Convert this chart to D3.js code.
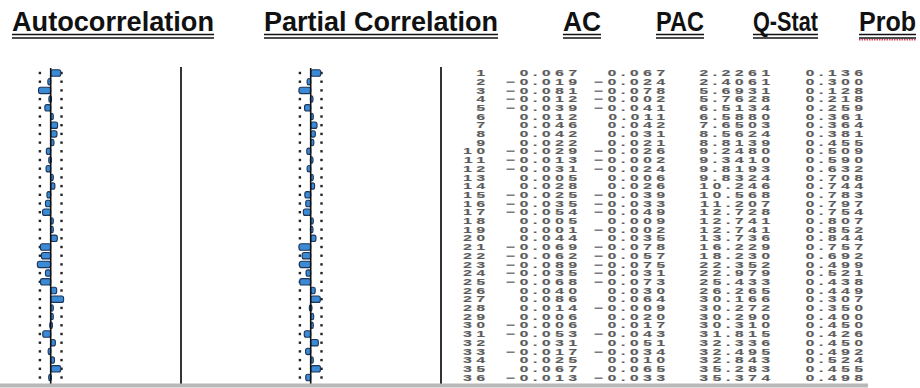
<!DOCTYPE html>
<html>
<head>
<meta charset="utf-8">
<script src="https://cdn.jsdelivr.net/npm/d3@7/dist/d3.min.js"></script>
<style>
  body { margin: 0; background: #fff; }
  svg { display: block; }
</style>
</head>
<body>
<svg id="chart"></svg>
<script>
// correlogram values
const lags = [1, 2, 3, 4, 5, 6, 7, 8, 9, 10, 11, 12, 13, 14, 15, 16, 17, 18,
  19, 20, 21, 22, 23, 24, 25, 26, 27, 28, 29, 30, 31, 32, 33, 34, 35, 36];
const ac = [0.067, -0.019, -0.081, -0.012, -0.039, 0.012, 0.046, 0.042, 0.022, -0.029,
  -0.013, -0.031, 0.005, 0.028, -0.025, -0.035, -0.054, 0.005, 0.001, 0.044,
  -0.069, -0.062, -0.089, -0.035, -0.068, 0.040, 0.086, 0.014, 0.006, -0.006,
  -0.053, 0.031, -0.017, 0.025, 0.067, -0.013];
const pac = [0.067, -0.024, -0.078, -0.002, -0.041, 0.011, 0.042, 0.031, 0.021, -0.026,
  -0.002, -0.024, 0.006, 0.026, -0.039, -0.033, -0.049, 0.009, -0.002, 0.035,
  -0.078, -0.057, -0.075, -0.031, -0.073, 0.030, 0.064, -0.009, 0.020, 0.017,
  -0.043, 0.051, -0.034, 0.010, 0.065, -0.033];
const qStat = ['2.2261', '2.4061', '5.6931', '5.7628', '6.5134', '6.5880', '7.6503', '8.5624',
  '8.8139', '9.2480', '9.3410', '9.8193', '9.8324', '10.246', '10.568', '11.207', '12.728',
  '12.741', '12.741', '13.736', '16.229', '18.230', '22.352', '22.979', '25.433', '26.265',
  '30.166', '30.272', '30.290', '30.310', '31.815', '32.336', '32.495', '32.843', '35.283',
  '35.374'];
const prob = ['0.136', '0.300', '0.128', '0.218', '0.259', '0.361', '0.364', '0.381', '0.455',
  '0.509', '0.590', '0.632', '0.708', '0.744', '0.783', '0.797', '0.754', '0.807', '0.852',
  '0.844', '0.757', '0.692', '0.499', '0.521', '0.438', '0.449', '0.307', '0.350', '0.400',
  '0.450', '0.426', '0.450', '0.492', '0.524', '0.455', '0.498'];
const band = 0.072; // confidence band drawn as dots
const headers = ['Autocorrelation', 'Partial Correlation', 'AC', 'PAC', 'Q-Stat', 'Prob'];

const width = 920, height = 388;
const svg = d3.select('#chart').attr('width', width).attr('height', height);

// header row
const headerPos = [[12, 202], [264, 234], [563, 38], [656, 48], [753, 65], [859, 57]];
const hg = svg.append('g');
headers.forEach((h, i) => {
  const [x, w] = headerPos[i];
  hg.append('text')
    .attr('x', x).attr('y', 31)
    .attr('textLength', w).attr('lengthAdjust', 'spacingAndGlyphs')
    .style('font-family', '"Liberation Sans", Arial, sans-serif')
    .style('font-weight', 'bold')
    .style('font-size', '27px')
    .style('fill', '#111')
    .text(h);
  [34.5, 38].forEach(yy => {
    hg.append('line')
      .attr('x1', x).attr('x2', x + w)
      .attr('y1', yy).attr('y2', yy)
      .attr('stroke', '#111').attr('stroke-width', 1.5);
  });
  if (h === 'Prob') {
    hg.append('line')
      .attr('x1', x).attr('x2', x + w)
      .attr('y1', 39.8).attr('y2', 39.8)
      .attr('stroke', '#e0405a').attr('stroke-width', 1.5)
      .attr('stroke-dasharray', '1.5,1');
  }
});

const y = d3.scalePoint().domain(lags).range([73, 377.5]);

// draw one correlogram panel
function panel(cx, values) {
  const x = d3.scaleLinear().domain([-0.09, 0.09]).range([cx - 13.5, cx + 13.5]);
  const g = svg.append('g');

  // dotted band
  [-band, band].forEach(b => {
    g.selectAll(null)
      .data(lags)
      .join('rect')
      .attr('x', x(b) - 1.2).attr('y', d => y(d) - 1.2)
      .attr('width', 2.4).attr('height', 2.4)
      .attr('fill', '#222');
  });

  g.selectAll('rect.bar')
    .data(values)
    .join('rect')
    .attr('class', 'bar')
    .attr('x', d => Math.min(x(0), x(d)))
    .attr('y', (d, i) => y(lags[i]) - 3.2)
    .attr('width', d => Math.max(2.6, Math.abs(x(d) - x(0))))
    .attr('height', 6.4)
    .attr('rx', 2)
    .attr('fill', '#3b8ad6')
    .attr('stroke', '#1c3558')
    .attr('stroke-width', 1.1);

  g.append('line')
    .attr('x1', x(0)).attr('x2', x(0))
    .attr('y1', 68).attr('y2', 384)
    .attr('stroke', '#111').attr('stroke-width', 1.6);
}
panel(50.7, ac);
panel(310.7, pac);

// separators
[181, 441].forEach(sx => {
  svg.append('line')
    .attr('x1', sx).attr('x2', sx)
    .attr('y1', 67).attr('y2', 384)
    .attr('stroke', '#333').attr('stroke-width', 2);
});
svg.append('rect')
  .attr('x', 0).attr('y', 383.5)
  .attr('width', 868).attr('height', 4)
  .attr('fill', '#b8b8b8');

// numeric table
const fmt = d3.format('.3f');
const columns = [
  [485, lags.map(String)],
  [577, ac.map(fmt)],
  [665, pac.map(fmt)],
  [770, qStat],
  [863, prob]
];
const ls = 2.8, sx = 1.7;
columns.forEach(([xr, vals]) => {
  const cg = svg.append('g').attr('transform', `translate(${xr},0) scale(${sx},1)`);
  cg.selectAll('text')
    .data(vals)
    .join('text')
    .attr('x', 0)
    .attr('dx', ls)
    .attr('y', (d, i) => y(lags[i]) + 3.2)
    .attr('text-anchor', 'end')
    .style('font-family', '"Liberation Sans", Arial, sans-serif')
    .style('font-weight', 'bold')
    .style('font-size', '9px')
    .style('letter-spacing', ls + 'px')
    .style('fill', '#585858')
    .style('stroke', '#7a7a7a')
    .style('stroke-width', 0.25)
    .text(d => d);
});
</script>
</body>
</html>
